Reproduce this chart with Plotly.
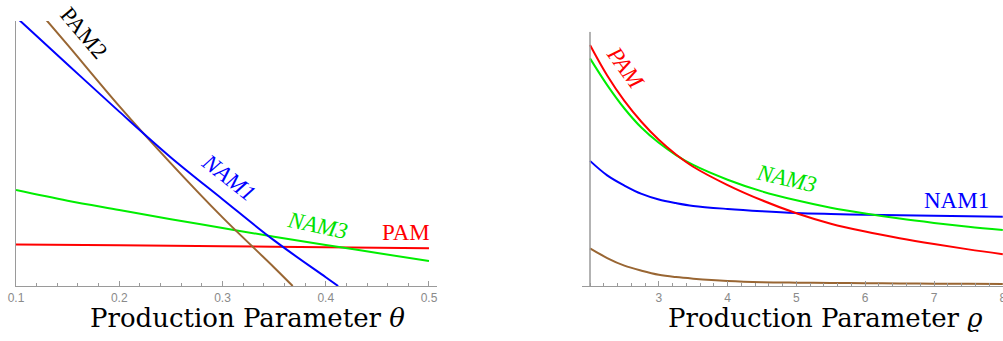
import plotly.graph_objects as go

# ---------- Left panel data (theta) ----------
theta_nam1 = [0.1, 0.15, 0.2, 0.25, 0.3, 0.35, 0.4, 0.412]
nam1_left = [1.015, 0.836, 0.658, 0.485, 0.3275, 0.172, 0.033, 0.0]

theta_pam2 = [0.128, 0.15, 0.2, 0.25, 0.3, 0.35, 0.368]
pam2_left = [1.01, 0.910, 0.679, 0.463, 0.259, 0.070, 0.0]

theta_nam3 = [0.1, 0.15, 0.2, 0.25, 0.3, 0.35, 0.4, 0.45, 0.5]
nam3_left = [0.362, 0.322, 0.287, 0.252, 0.219, 0.186, 0.155, 0.1245, 0.094]

theta_pam = [0.1, 0.2, 0.3, 0.4, 0.5]
pam_left = [0.157, 0.154, 0.150, 0.146, 0.142]

theta_ticks = [0.1, 0.2, 0.3, 0.4, 0.5]
theta_ticktext = ["0.1", "0.2", "0.3", "0.4", "0.5"]

# ---------- Right panel data (rho) ----------
rho = [2, 2.25, 2.5, 2.75, 3, 3.25, 3.5, 4, 4.5, 5, 5.5, 6, 6.5, 7, 7.5, 8]
pam_right = [0.948, 0.828, 0.728, 0.645, 0.575, 0.517, 0.469, 0.397, 0.337, 0.286, 0.245, 0.214, 0.188, 0.165, 0.144, 0.125]
nam3_right = [0.895, 0.790, 0.698, 0.622, 0.563, 0.515, 0.476, 0.418, 0.372, 0.337, 0.308, 0.285, 0.265, 0.248, 0.233, 0.220]
nam1_right = [0.492, 0.435, 0.395, 0.362, 0.340, 0.326, 0.315, 0.303, 0.294, 0.287, 0.283, 0.280, 0.278, 0.276, 0.274, 0.272]
pam2_right = [0.148, 0.110, 0.080, 0.060, 0.044, 0.035, 0.029, 0.020, 0.015, 0.013, 0.012, 0.011, 0.010, 0.009, 0.0085, 0.008]

rho_ticks = [3, 4, 5, 6, 7, 8]
rho_ticktext = ["3", "4", "5", "6", "7", "8"]

# ---------- Curve labels ----------
left_labels = [
    dict(text="PAM2", x=0.1650, y=0.955, angle=50, color="black", italic=False),
    dict(text="NAM1", x=0.3058, y=0.408, angle=38, color="#0000ff", italic=True),
    dict(text="NAM3", x=0.3922, y=0.230, angle=12, color="#00e000", italic=True),
    dict(text="PAM", x=0.4777, y=0.200, angle=0, color="#ff0000", italic=False),
]
right_labels = [
    dict(text="PAM", x=2.523, y=0.856, angle=54, color="#ff0000", italic=True),
    dict(text="NAM3", x=4.858, y=0.423, angle=13, color="#00e000", italic=True),
    dict(text="NAM1", x=7.333, y=0.338, angle=0, color="#0000ff", italic=False),
]

BLUE = "#0000ff"
RED = "#ff0000"
GREEN = "#00ee00"
BROWN = "#996633"
AXIS = "#9a9a9a"
LW = 2

W, H = 1003, 341
fig = go.Figure()

def add(x, y, color, xa, ya):
    fig.add_trace(go.Scatter(x=x, y=y, mode="lines", line=dict(color=color, width=LW, shape="spline"),
                             xaxis=xa, yaxis=ya, showlegend=False, hoverinfo="skip"))

add(theta_pam, pam_left, RED, "x", "y")
add(theta_nam3, nam3_left, GREEN, "x", "y")
add(theta_pam2, pam2_left, BROWN, "x", "y")
add(theta_nam1, nam1_left, BLUE, "x", "y")

add(rho, pam2_right, BROWN, "x2", "y2")
add(rho, nam1_right, BLUE, "x2", "y2")
add(rho, nam3_right, GREEN, "x2", "y2")
add(rho, pam_right, RED, "x2", "y2")

serif = "Liberation Serif"
titlefont = "DejaVu Serif"
tickfont = dict(family="Liberation Sans", size=12, color="#8a8a8a")

yb = (H - 286) / H
fig.update_layout(
    width=W, height=H, margin=dict(l=0, r=0, t=0, b=0, autoexpand=False),
    paper_bgcolor="white", plot_bgcolor="white",
    xaxis=dict(domain=[16 / W, 437 / W], range=[0.1, 0.5 + 8 / 1030], anchor="y", automargin=False,
               tickvals=theta_ticks, ticktext=theta_ticktext, ticks="inside", ticklen=5,
               tickcolor=AXIS, tickwidth=1, showline=True, linecolor=AXIS, linewidth=1.2,
               showgrid=False, zeroline=False, tickfont=tickfont, ticklabeloverflow="allow",
               minor=dict(dtick=0.02, tick0=0.1, ticks="inside", ticklen=3, tickcolor=AXIS, showgrid=False)),
    yaxis=dict(domain=[yb, (H - 21) / H], range=[0, 1], anchor="x", showline=True, linecolor=AXIS,
               automargin=False, linewidth=1.2, showticklabels=False, ticks="", showgrid=False, zeroline=False),
    xaxis2=dict(domain=[581.7 / W, 1.0], range=[2 - 8.3 / 68.8, 2 + 413 / 68.8], anchor="y2", automargin=False,
                tickvals=rho_ticks, ticktext=rho_ticktext, ticks="inside", ticklen=5,
                tickcolor=AXIS, tickwidth=1, showline=True, linecolor=AXIS, linewidth=1.2,
                showgrid=False, zeroline=False, tickfont=tickfont, ticklabeloverflow="allow",
                minor=dict(dtick=0.2, tick0=2, ticks="inside", ticklen=3, tickcolor=AXIS, showgrid=False)),
    yaxis2=dict(domain=[yb, (H - 31.7) / H], range=[0, 1], anchor="x2", showline=False, automargin=False,
                showticklabels=False, ticks="", showgrid=False, zeroline=False),
)

# right vertical axis line at rho = 2 (extends slightly below x axis)
fig.add_shape(type="line", xref="x2", yref="y2", x0=2, x1=2, y0=-10 / 254.3, y1=1,
              line=dict(color=AXIS, width=1.5))

for lab in left_labels:
    t = f"<i>{lab['text']}</i>" if lab["italic"] else lab["text"]
    fig.add_annotation(x=lab["x"], y=lab["y"], xref="x", yref="y", text=t, showarrow=False,
                       textangle=lab["angle"], font=dict(family=serif, size=23, color=lab["color"]),
                       xanchor="center", yanchor="middle")
for lab in right_labels:
    t = f"<i>{lab['text']}</i>" if lab["italic"] else lab["text"]
    fig.add_annotation(x=lab["x"], y=lab["y"], xref="x2", yref="y2", text=t, showarrow=False,
                       textangle=lab["angle"], font=dict(family=serif, size=23, color=lab["color"]),
                       xanchor="center", yanchor="middle")

fig.add_annotation(x=247 / W, y=1 - 318 / H, xref="paper", yref="paper",
                   text="Production Parameter <i>θ</i>", showarrow=False,
                   font=dict(family=titlefont, size=26, color="black"), xanchor="center", yanchor="middle")
fig.add_annotation(x=825 / W, y=1 - 318 / H, xref="paper", yref="paper",
                   text="Production Parameter <i>ϱ</i>", showarrow=False,
                   font=dict(family=titlefont, size=26, color="black"), xanchor="center", yanchor="middle")

fig.write_html("out.html", config={"displayModeBar": False},
               post_script="document.body.style.margin='0';document.body.style.overflow='hidden';")
